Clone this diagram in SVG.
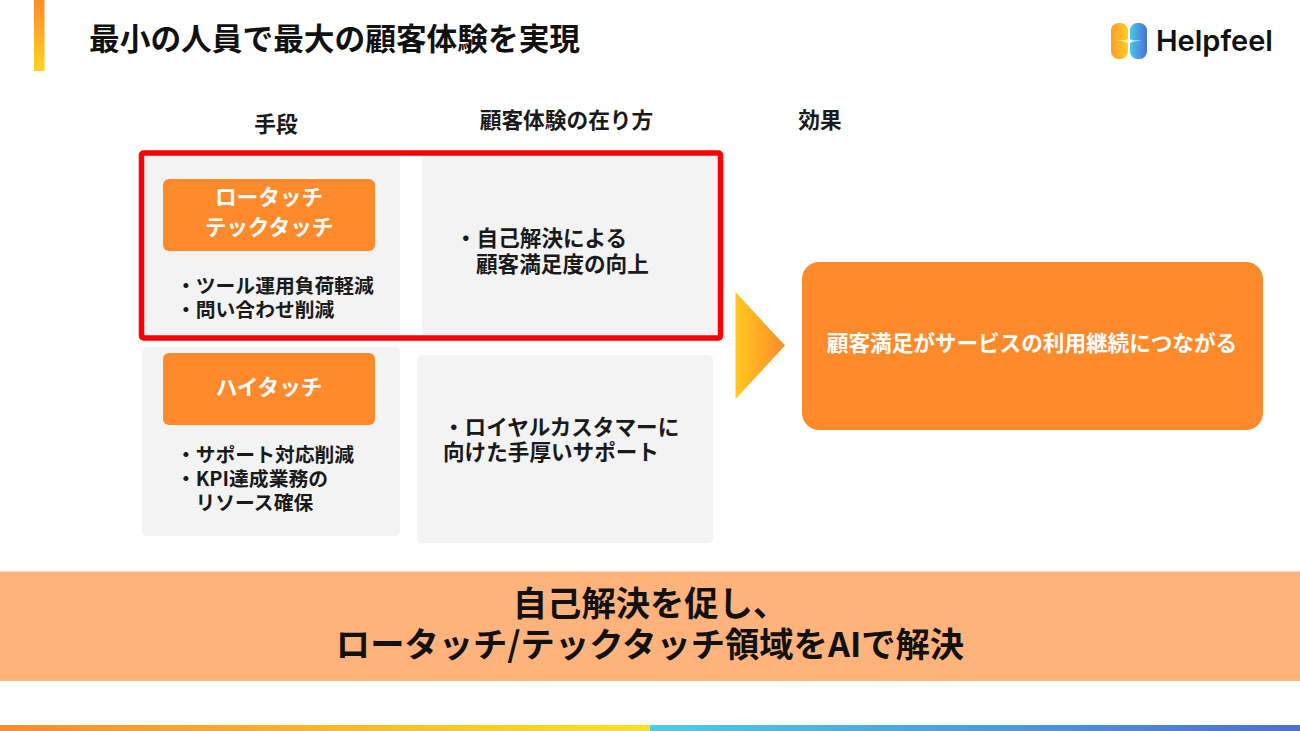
<svg xmlns="http://www.w3.org/2000/svg" width="1300" height="731" viewBox="0 0 1300 731">
<defs>
<linearGradient id="gBar" x1="0" y1="0" x2="0" y2="1"><stop offset="0" stop-color="#ff8a2c"/><stop offset="1" stop-color="#ffd321"/></linearGradient>
<linearGradient id="gBot1" x1="0" y1="0" x2="1" y2="0"><stop offset="0" stop-color="#ff8a2c"/><stop offset="1" stop-color="#ffe11e"/></linearGradient>
<linearGradient id="gBot2" x1="0" y1="0" x2="1" y2="0"><stop offset="0" stop-color="#48cdea"/><stop offset="1" stop-color="#4a6fd8"/></linearGradient>
<linearGradient id="gArrow" x1="0" y1="0" x2="1" y2="0"><stop offset="0" stop-color="#ffc91f"/><stop offset="1" stop-color="#ff8a2c"/></linearGradient>
<linearGradient id="gLogoL" x1="0" y1="0" x2="1" y2="0"><stop offset="0" stop-color="#ff9a2c"/><stop offset="1" stop-color="#ffd020"/></linearGradient>
<linearGradient id="gLogoR" x1="0" y1="0" x2="1" y2="0"><stop offset="0" stop-color="#48c8ea"/><stop offset="1" stop-color="#4a70d8"/></linearGradient>
</defs>
<style>
text{font-family:"Noto Sans CJK JP","Noto Sans",sans-serif;font-weight:700;fill:#1a1a1a}
.hd{font-size:21.700px;text-anchor:middle}
.b{font-size:19.800px}
.m{font-size:21.600px}
.w{fill:#fff;font-size:21.600px;text-anchor:middle}
.panel{fill:#f3f3f3}
.btn{fill:#ff8a2c}
.big{font-size:34.300px;text-anchor:middle;fill:#111}
</style>
<rect width="1300" height="731" fill="#fff"/>
<rect x="34" y="0" width="10.500" height="71" fill="url(#gBar)"/>
<text x="89" y="49.500" font-size="30.700" style="fill:#111">最小の人員で最大の顧客体験を実現</text>
<g id="logo">
<rect x="1111" y="23" width="17" height="36" rx="7.500" fill="url(#gLogoL)"/>
<rect x="1130" y="23" width="17" height="36" rx="7.500" fill="url(#gLogoR)"/>
<path d="M1116 40.600H1125L1129 38.500L1133 40.600H1142L1133 41.400L1129 43.500L1125 41.400Z" fill="#fff"/>
<text x="1156" y="51" font-size="29" style="font-family:Inter,'Noto Sans',sans-serif;font-weight:600;fill:#111">Helpfeel</text>
</g>
<g id="headers">
<text class="hd" x="276" y="132">手段</text>
<text class="hd" x="566.500" y="128">顧客体験の在り方</text>
<text class="hd" x="820" y="128">効果</text>
</g>
<g id="panel-low">
<rect class="panel" x="142" y="152" width="258" height="186"/>
<rect class="btn" x="163" y="179" width="212" height="72" rx="6"/>
<text class="w" x="269" y="205">ロータッチ</text>
<text class="w" x="269" y="235">テックタッチ</text>
<text class="b" x="176" y="293">・ツール運用負荷軽減</text>
<text class="b" x="176" y="317">・問い合わせ削減</text>
</g>
<g id="panel-low-exp">
<rect class="panel" x="422" y="152" width="298" height="186"/>
<text class="m" x="455" y="246">・自己解決による</text>
<text class="m" x="476" y="272">顧客満足度の向上</text>
</g>
<g id="panel-high">
<rect class="panel" x="142" y="347" width="258" height="189" rx="5"/>
<rect class="btn" x="163" y="353" width="212" height="72" rx="6"/>
<text class="w" x="269" y="395">ハイタッチ</text>
<text class="b" x="176" y="462">・サポート対応削減</text>
<text class="b" x="176" y="486">・KPI達成業務の</text>
<text class="b" x="195.500" y="510">リソース確保</text>
</g>
<g id="panel-high-exp">
<rect class="panel" x="417" y="355" width="296" height="188" rx="5"/>
<text class="m" x="443" y="435">・ロイヤルカスタマーに</text>
<text class="m" x="443" y="460">向けた手厚いサポート</text>
</g>
<g id="highlight"><rect x="141.500" y="153" width="579" height="185" rx="2" fill="none" stroke="#ff0000" stroke-width="5.500"/></g>
<g id="connectors"><polygon points="735.500,292 785,345.500 735.500,399" fill="url(#gArrow)"/></g>
<g id="effect">
<rect x="802" y="262" width="461" height="168" rx="17" fill="#ff8a2c"/>
<text class="w" x="1032" y="351">顧客満足がサービスの利用継続につながる</text>
</g>
<g id="banner">
<rect x="0" y="571.500" width="1300" height="109.500" fill="#ffb37c"/>
<text class="big" x="650" y="616">自己解決を促し、</text>
<text class="big" x="650" y="657">ロータッチ/テックタッチ領域をAIで解決</text>
</g>
<rect x="0" y="725" width="650" height="6" fill="url(#gBot1)"/>
<rect x="650" y="725" width="650" height="6" fill="url(#gBot2)"/>
</svg>
